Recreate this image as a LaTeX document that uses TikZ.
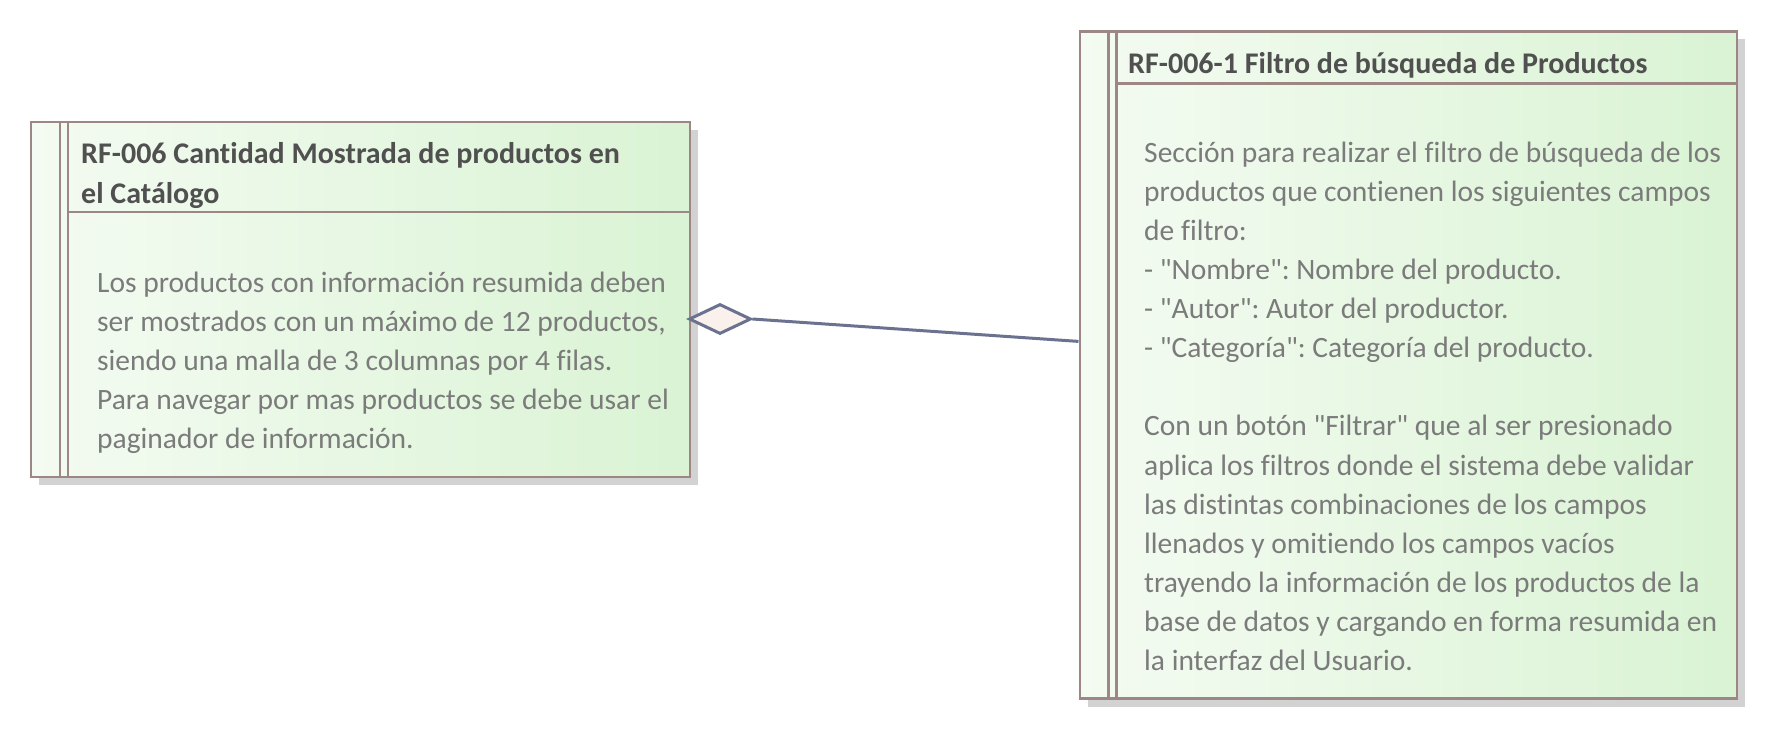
\documentclass[tikz,border=0pt]{standalone}
\usepackage{fontspec}
\setmainfont{Carlito}[Ligatures={TeXOff,NoCommon}]
\usetikzlibrary{calc,shapes.geometric}
\definecolor{borderc}{HTML}{9C8784}
\definecolor{shadowc}{HTML}{D2D2D2}
\definecolor{fillL}{HTML}{F4FBF2}
\definecolor{fillR}{HTML}{DAF3D4}
\definecolor{titlec}{HTML}{505050}
\definecolor{bodyc}{HTML}{7B7B7B}
\definecolor{linec}{HTML}{6A7290}
\definecolor{diafill}{HTML}{FAF0EC}
\frenchspacing
\begin{document}
\frenchspacing
\begin{tikzpicture}[x=1pt,y=-1pt,
  reqbox/.style={draw=borderc, line width=2.4pt, left color=fillL, right color=fillR, rectangle, inner sep=0pt, anchor=north west},
  edge/.style={draw=borderc, line width=2.4pt},
  titletext/.style={font=\fontsize{30}{40}\selectfont\bfseries\frenchspacing, text=titlec, align=left, inner sep=0pt, anchor=base west},
  bodytext/.style={font=\fontsize{29.5}{39.1}\selectfont\frenchspacing, text=bodyc, align=left, inner sep=0pt, anchor=base west},
  conn/.style={draw=linec, line width=3pt}]
\useasboundingbox (0,0) rectangle (1767,729);
% shadows
\fill[shadowc] (39,130) rectangle (698,485);
\fill[shadowc] (1087.5,39.4) rectangle (1744.5,706.6);
% boxes
\node[reqbox, minimum width=659pt, minimum height=355pt] (lb) at (30,121) {};
\node[reqbox, minimum width=657pt, minimum height=667pt] (rb) at (1078.5,30.4) {};
% stripes and header separators
\draw[edge] ($(lb.north west)+(30,0)$) -- ($(lb.south west)+(30,0)$);
\draw[edge] ($(lb.north west)+(38,0)$) -- ($(lb.south west)+(38,0)$);
\draw[edge] ($(lb.north west)+(38,91)$) -- ($(lb.north east)+(0,91)$);
\draw[edge] ($(rb.north west)+(30,0)$) -- ($(rb.south west)+(30,0)$);
\draw[edge] ($(rb.north west)+(38,0)$) -- ($(rb.south west)+(38,0)$);
\draw[edge] ($(rb.north west)+(38,53)$) -- ($(rb.north east)+(0,53)$);
% texts (anchored at the baseline of their last line)
\node[titletext] (lt) at (81,203) {RF-006 Cantidad Mostrada de productos en\\el Catálogo};
\node[bodytext] (lbody) at (97,448.5) {Los productos con información resumida deben\\ser mostrados con un máximo de 12 productos,\\siendo una malla de 3 columnas por 4 filas.\\Para navegar por mas productos se debe usar el\\paginador de información.};
\node[titletext] (rt) at (1128,73) {RF-006-1 Filtro de búsqueda de Productos};
\node[bodytext] (rbody) at (1144,670.5) {Sección para realizar el filtro de búsqueda de los\\productos que contienen los siguientes campos\\de filtro:\\- "Nombre": Nombre del producto.\\- "Autor": Autor del productor.\\- "Categoría": Categoría del producto.\\[39.1pt]Con un botón "Filtrar" que al ser presionado\\aplica los filtros donde el sistema debe validar\\las distintas combinaciones de los campos\\llenados y omitiendo los campos vacíos\\trayendo la información de los productos de la\\base de datos y cargando en forma resumida en\\la interfaz del Usuario.};
% aggregation connector
\node[diamond, conn, fill=diafill, inner sep=0pt, minimum width=62pt, minimum height=30pt] (dia) at (720,319) {};
\coordinate (rbend) at ($(rb.north west)+(0,311)$);
\draw[conn] (dia.east) -- (rbend);
\end{tikzpicture}
\end{document}
